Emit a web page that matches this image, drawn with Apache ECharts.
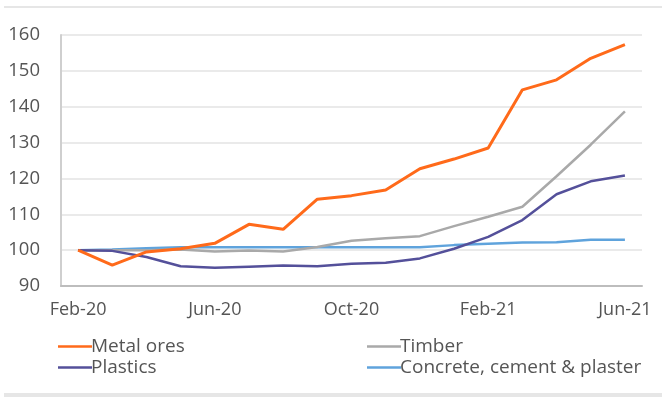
<!DOCTYPE html>
<html>
<head>
<meta charset="utf-8">
<script src="https://cdn.jsdelivr.net/npm/echarts@6/dist/echarts.min.js"></script>
<style>
  html, body { margin: 0; padding: 0; background: #fff; }
  #chart { width: 666px; height: 397px; }
</style>
</head>
<body>
<div id="chart"></div>
<script>
// Monthly price indices, Feb-20 = 100
const months = ['Feb-20','Mar-20','Apr-20','May-20','Jun-20','Jul-20','Aug-20','Sep-20','Oct-20',
                'Nov-20','Dec-20','Jan-21','Feb-21','Mar-21','Apr-21','May-21','Jun-21'];
const metalOres = [100, 95.8, 99.5, 100.4, 101.9, 107.2, 105.8, 114.2, 115.2, 116.8, 122.7, 125.4, 128.5, 144.7, 147.5, 153.5, 157.3];
const timber    = [100, 100.0, 100.0, 100.2, 99.6, 99.9, 99.6, 100.9, 102.6, 103.3, 103.9, 106.7, 109.3, 112.1, 120.6, 129.4, 138.7];
const plastics  = [100, 99.8, 98.1, 95.5, 95.1, 95.4, 95.7, 95.5, 96.2, 96.5, 97.7, 100.4, 103.7, 108.4, 115.6, 119.2, 120.8];
const concrete  = [100, 100.2, 100.5, 100.8, 100.8, 100.8, 100.8, 100.8, 100.8, 100.8, 100.8, 101.4, 101.8, 102.1, 102.2, 102.9, 102.9];
const yTicks = [90, 100, 110, 120, 130, 140, 150, 160];

const FONT = 'Open Sans';
const TEXT = '#555555';

const chart = echarts.init(document.getElementById('chart'));

function mkSeries(name, data, color, width, z) {
  return {
    name, type: 'line', data, z,
    symbol: 'none',
    lineStyle: { color, width },
    itemStyle: { color }
  };
}

const legendCommon = {
  orient: 'vertical',
  top: 332,
  itemWidth: 34,
  itemHeight: 2.5,
  itemGap: 2,
  icon: 'rect',
  textStyle: { fontFamily: FONT, fontSize: 19, color: TEXT, padding: [0, 0, 0, -6] }
};

chart.setOption({
  animation: false,
  grid: { left: 61, right: 24, top: 35, bottom: 111, containLabel: false },
  xAxis: {
    type: 'category',
    data: months,
    boundaryGap: true,
    axisLine: { lineStyle: { color: '#bdbdbd', width: 2 } },
    axisTick: { show: false },
    axisLabel: {
      interval: 3,
      margin: 15,
      fontFamily: FONT, fontSize: 18, color: TEXT
    }
  },
  yAxis: {
    type: 'value',
    min: yTicks[0], max: yTicks[yTicks.length - 1], interval: 10,
    axisLine: { show: true, lineStyle: { color: '#cfcfcf', width: 2 } },
    axisTick: { show: false },
    splitLine: { lineStyle: { color: '#e3e3e3', width: 1.5 } },
    axisLabel: { margin: 21, fontFamily: FONT, fontSize: 18.5, color: TEXT }
  },
  legend: [
    Object.assign({}, legendCommon, { left: 53, data: ['Metal ores', 'Plastics'] }),
    Object.assign({}, legendCommon, { left: 362, data: ['Timber', 'Concrete, cement & plaster'] })
  ],
  graphic: [
    { type: 'rect', shape: { x: 4, y: 6, width: 658, height: 2 }, style: { fill: '#e6e6e6' } },
    { type: 'rect', shape: { x: 4, y: 393, width: 658, height: 4 }, style: { fill: '#e6e6e6' } }
  ],
  series: [
    mkSeries('Concrete, cement & plaster', concrete, '#5fa3dc', 2.5, 2),
    mkSeries('Timber', timber, '#a9a9a9', 2.5, 3),
    mkSeries('Plastics', plastics, '#54509a', 2.5, 4),
    mkSeries('Metal ores', metalOres, '#ff6a1a', 3, 5)
  ]
});
</script>
</body>
</html>
